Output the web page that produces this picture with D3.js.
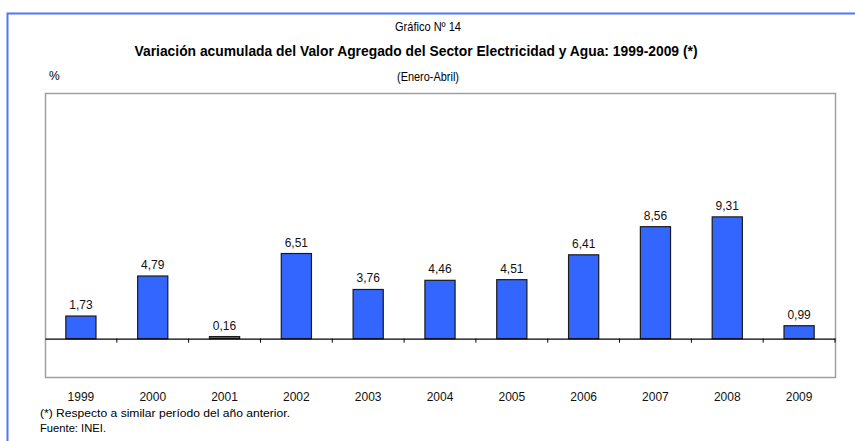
<!DOCTYPE html>
<html>
<head>
<meta charset="utf-8">
<script src="https://cdn.jsdelivr.net/npm/d3@7"></script>
<style>
  body { margin: 0; background: #fff; }
  svg { display: block; font-family: "Liberation Sans", Arial, sans-serif; }
</style>
</head>
<body>
<div id="chart"></div>
<script>
// data
let years = ["1999", "2000", "2001", "2002", "2003", "2004", "2005", "2006", "2007", "2008", "2009"];
let values = [1.73, 4.79, 0.16, 6.51, 3.76, 4.46, 4.51, 6.41, 8.56, 9.31, 0.99];
let valueLabels = ["1,73", "4,79", "0,16", "6,51", "3,76", "4,46", "4,51", "6,41", "8,56", "9,31", "0,99"];
let yDomain = [-2.93, 18.78];

let width = 855, height = 441;
let plot = {left: 45, right: 835, top: 93, bottom: 377};

let svg = d3.select("#chart").append("svg")
    .attr("width", width)
    .attr("height", height);

// blue frame (top + left)
svg.append("path")
    .attr("d", "M7.5,441 V13.5 H855")
    .attr("fill", "none")
    .attr("stroke", "#4d79f6")
    .attr("stroke-width", 2);

// titles
svg.append("text")
    .attr("x", 428).attr("y", 31)
    .attr("text-anchor", "middle")
    .style("font-size", "13px")
    .attr("textLength", 66).attr("lengthAdjust", "spacingAndGlyphs")
    .text("Gráfico Nº 14");

svg.append("text")
    .attr("x", 416).attr("y", 56)
    .attr("text-anchor", "middle")
    .style("font-size", "15px")
    .style("font-weight", "bold")
    .attr("textLength", 563).attr("lengthAdjust", "spacingAndGlyphs")
    .text("Variación acumulada del Valor Agregado del Sector Electricidad y Agua: 1999-2009 (*)");

svg.append("text")
    .attr("x", 428).attr("y", 81)
    .attr("text-anchor", "middle")
    .style("font-size", "13px")
    .attr("textLength", 62).attr("lengthAdjust", "spacingAndGlyphs")
    .text("(Enero-Abril)");

svg.append("text")
    .attr("x", 49).attr("y", 80)
    .style("font-size", "12px")
    .text("%");

// plot area box
svg.append("rect")
    .attr("x", plot.left + 0.5).attr("y", plot.top + 0.5)
    .attr("width", plot.right - plot.left)
    .attr("height", plot.bottom - plot.top)
    .attr("fill", "none")
    .attr("stroke", "#a0a0a0")
    .attr("stroke-width", 1.5);

let xScale = d3.scaleBand()
    .domain(years)
    .range([plot.left, plot.right])
    .paddingInner(0)
    .paddingOuter(0);

let yScale = d3.scaleLinear()
    .domain(yDomain)
    .range([plot.bottom, plot.top]);

let barW = xScale.bandwidth() * 0.42;

// bars
svg.selectAll(".bar")
    .data(values)
    .enter().append("rect")
    .attr("class", "bar")
    .attr("x", (d, i) => xScale(years[i]) + (xScale.bandwidth() - barW) / 2)
    .attr("y", d => yScale(d))
    .attr("width", barW)
    .attr("height", d => yScale(0) - yScale(d))
    .attr("fill", "#3366ff")
    .attr("stroke", "#1a1a1a")
    .attr("stroke-width", 1.2);

// value labels
svg.selectAll(".vlabel")
    .data(values)
    .enter().append("text")
    .attr("class", "vlabel")
    .attr("x", (d, i) => xScale(years[i]) + xScale.bandwidth() / 2)
    .attr("y", d => yScale(d) - 7)
    .attr("text-anchor", "middle")
    .style("font-size", "12px")
    .attr("fill", "#111")
    .text((d, i) => valueLabels[i]);

// zero axis with ticks between categories
let xAxis = d3.axisBottom(xScale)
    .tickSize(0)
    .tickFormat("");
let axisG = svg.append("g")
    .attr("transform", "translate(0," + yScale(0) + ")")
    .call(xAxis);
axisG.select(".domain").attr("stroke", "#000").attr("stroke-width", 1.2);

svg.selectAll(".sep")
    .data(years.slice(1).concat(["end"]))
    .enter().append("line")
    .attr("class", "sep")
    .attr("x1", (d, i) => i < years.length - 1 ? xScale(d) : plot.right)
    .attr("x2", (d, i) => i < years.length - 1 ? xScale(d) : plot.right)
    .attr("y1", yScale(0))
    .attr("y2", yScale(0) + 4)
    .attr("stroke", "#000")
    .attr("stroke-width", 1);

// year labels below the box
svg.selectAll(".ylabel")
    .data(years)
    .enter().append("text")
    .attr("class", "ylabel")
    .attr("x", d => xScale(d) + xScale.bandwidth() / 2)
    .attr("y", 401)
    .attr("text-anchor", "middle")
    .style("font-size", "12px")
    .attr("fill", "#111")
    .text(d => d);

// footnotes
svg.append("text")
    .attr("x", 40).attr("y", 417)
    .style("font-size", "10px")
    .attr("textLength", 250).attr("lengthAdjust", "spacingAndGlyphs")
    .text("(*) Respecto a similar período del año anterior.");

svg.append("text")
    .attr("x", 40).attr("y", 432)
    .style("font-size", "10px")
    .attr("textLength", 66).attr("lengthAdjust", "spacingAndGlyphs")
    .text("Fuente: INEI.");
</script>
</body>
</html>
